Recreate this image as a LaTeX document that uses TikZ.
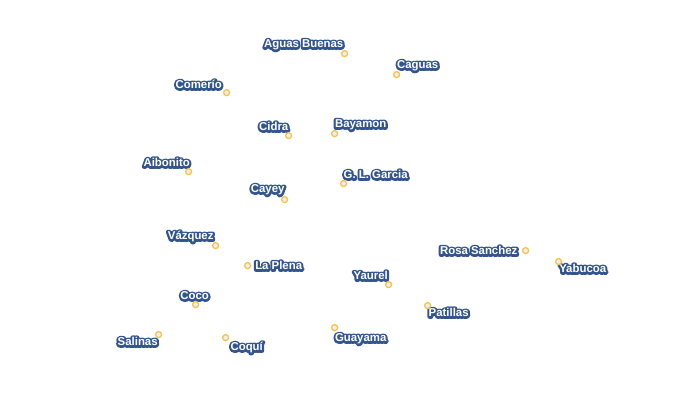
\documentclass[tikz,border=0pt]{standalone}
\usepackage{fontspec}
\setmainfont{Liberation Sans}
\definecolor{ring}{HTML}{F5C24C}
\definecolor{dotfill}{HTML}{EFEFF2}
\tikzset{
    placedot/.style = {circle, draw=ring, fill=dotfill, line width=1.3pt, inner sep=0pt, minimum size=6pt, xshift=.6pt, yshift=-.6pt},
    placename/.style = {inner sep=0pt, anchor=base, text=white, yshift=-3.8pt, xshift=-.3pt, font=\bfseries\fontsize{11.4}{12}\selectfont}
}
% stroked copy of the text under the white one
\newcommand{\halotext}[1]{%
    \leavevmode\rlap{\special{pdf:code q 1 Tr 4.2 w 1 j 1 J 0.204 0.333 0.545 RG}#1\special{pdf:code Q}}#1}

\begin{document}
\begin{tikzpicture}[x=1pt,y=-1pt]
        \useasboundingbox (0,0) rectangle (700,410);
        %\draw[help lines] (0,0) grid (700,410);
        \foreach \id/\dx/\dy/\lx/\ly/\txt in {
            aguas/344/53/304/44/Aguas Buenas,
            caguas/396/74/418/65/Caguas,
            comerio/226/92/199/85/Comerío,
            cidra/288/135/274/127/Cidra,
            bayamon/334/133/361/124/Bayamon,
            aibonito/188/171/167/163/Aibonito,
            cayey/284/199/268/189/Cayey,
            garcia/343/183/376/175/G. L. Garcia,
            vazquez/215/245/191/236/Vázquez,
            plena/247/265/279/266/La Plena,
            rosa/525/250/479/251/Rosa Sanchez,
            yabucoa/558/261/583/269/Yabucoa,
            yaurel/388/284/371/276/Yaurel,
            patillas/427/305/449/313/Patillas,
            coco/195/304/195/296/Coco,
            salinas/158/334/138/342/Salinas,
            coqui/225/337/247/347/Coquí,
            guayama/334/327/361/338/Guayama}
        {
            \node[placename] (name\id) at (\lx,\ly) {\halotext{\txt}};
            \node[placedot] (dot\id) at (\dx,\dy) {};
        }
    \end{tikzpicture}
\end{document}
